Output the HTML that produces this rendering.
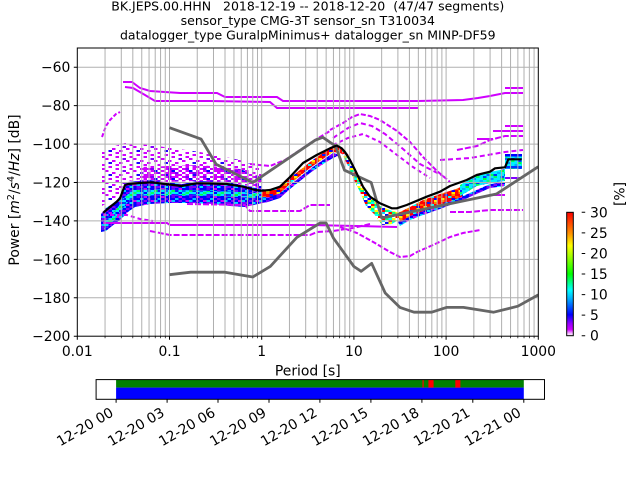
<!DOCTYPE html>
<html><head><meta charset="utf-8"><style>
html,body{margin:0;padding:0;background:#fff;}
svg{display:block;font-family:"DejaVu Sans","Liberation Sans",sans-serif;}
</style></head><body>
<svg width="640" height="480" viewBox="0 0 640 480" xmlns="http://www.w3.org/2000/svg">
<defs>
<clipPath id="ax"><rect x="77.3" y="48" width="461" height="288.2"/></clipPath>
<pattern id="pBlue" width="17.5" height="8" patternUnits="userSpaceOnUse">
<rect width="17.5" height="8" fill="#0000ff"/>
<rect x="3.5" y="0" width="3.5" height="2" fill="#8000ff"/><rect x="10.5" y="0" width="3.5" height="2" fill="#d000ff"/><rect x="14" y="0" width="3.5" height="2" fill="#00c8ff"/>
<rect x="0" y="2" width="3.5" height="2" fill="#8000ff"/><rect x="7" y="2" width="3.5" height="2" fill="#00e0ff"/><rect x="14" y="2" width="3.5" height="2" fill="#8000ff"/>
<rect x="3.5" y="4" width="3.5" height="2" fill="#d000ff"/><rect x="14" y="4" width="3.5" height="2" fill="#6000ff"/>
<rect x="0" y="6" width="3.5" height="2" fill="#00c0ff"/><rect x="7" y="6" width="3.5" height="2" fill="#8000ff"/>
</pattern>
<pattern id="pCyan" width="17.5" height="8" patternUnits="userSpaceOnUse">
<rect width="17.5" height="8" fill="#00f0ff"/>
<rect x="3.5" y="0" width="3.5" height="2" fill="#00ff60"/><rect x="10.5" y="0" width="3.5" height="2" fill="#0040ff"/>
<rect x="0" y="2" width="3.5" height="2" fill="#0090ff"/><rect x="10.5" y="2" width="3.5" height="2" fill="#00ff40"/>
<rect x="7" y="4" width="3.5" height="2" fill="#00b0ff"/><rect x="14" y="4" width="3.5" height="2" fill="#00ff80"/>
<rect x="0" y="6" width="3.5" height="2" fill="#00ff50"/><rect x="3.5" y="6" width="3.5" height="2" fill="#0030ff"/><rect x="14" y="6" width="3.5" height="2" fill="#0060ff"/>
</pattern>
<pattern id="pCyan2" width="17.5" height="8" patternUnits="userSpaceOnUse">
<rect width="17.5" height="8" fill="#00e8ff"/>
<rect x="3.5" y="0" width="3.5" height="2" fill="#0000ff"/><rect x="10.5" y="0" width="3.5" height="2" fill="#00ff60"/>
<rect x="0" y="2" width="3.5" height="2" fill="#0040ff"/><rect x="7" y="2" width="3.5" height="2" fill="#00ff40"/><rect x="14" y="2" width="3.5" height="2" fill="#4000ff"/>
<rect x="3.5" y="4" width="3.5" height="2" fill="#00ff80"/><rect x="10.5" y="4" width="3.5" height="2" fill="#0000ff"/>
<rect x="0" y="6" width="3.5" height="2" fill="#0020ff"/><rect x="7" y="6" width="3.5" height="2" fill="#0060ff"/><rect x="14" y="6" width="3.5" height="2" fill="#00ff50"/>
</pattern>
<pattern id="pHot" width="17.5" height="8" patternUnits="userSpaceOnUse">
<rect width="17.5" height="8" fill="#ff0000"/>
<rect x="3.5" y="0" width="3.5" height="2" fill="#ff8000"/><rect x="14" y="0" width="3.5" height="2" fill="#ffee00"/>
<rect x="7" y="2" width="3.5" height="2" fill="#0020ff"/><rect x="14" y="2" width="3.5" height="2" fill="#ff8000"/>
<rect x="0" y="4" width="3.5" height="2" fill="#ff6000"/><rect x="10.5" y="4" width="3.5" height="2" fill="#00ffff"/>
<rect x="3.5" y="6" width="3.5" height="2" fill="#ffee00"/><rect x="14" y="6" width="3.5" height="2" fill="#0000ff"/>
</pattern>
<pattern id="pMix" width="17.5" height="8" patternUnits="userSpaceOnUse">
<rect width="17.5" height="8" fill="#00ff80"/>
<rect x="0" y="0" width="3.5" height="2" fill="#ffff00"/><rect x="7" y="0" width="3.5" height="2" fill="#ffffff"/><rect x="10.5" y="0" width="3.5" height="2" fill="#ff0000"/><rect x="14" y="0" width="3.5" height="2" fill="#0000ff"/>
<rect x="3.5" y="2" width="3.5" height="2" fill="#00ffff"/><rect x="7" y="2" width="3.5" height="2" fill="#ffff00"/><rect x="10.5" y="2" width="3.5" height="2" fill="#ffffff"/><rect x="14" y="2" width="3.5" height="2" fill="#ff0000"/>
<rect x="0" y="4" width="3.5" height="2" fill="#ffffff"/><rect x="3.5" y="4" width="3.5" height="2" fill="#ff0000"/><rect x="10.5" y="4" width="3.5" height="2" fill="#ffff00"/><rect x="14" y="4" width="3.5" height="2" fill="#00e0ff"/>
<rect x="0" y="6" width="3.5" height="2" fill="#0000ff"/><rect x="3.5" y="6" width="3.5" height="2" fill="#ffff00"/><rect x="7" y="6" width="3.5" height="2" fill="#00ffff"/><rect x="14" y="6" width="3.5" height="2" fill="#ffffff"/>
</pattern>
<pattern id="pSparse" width="28" height="12" patternUnits="userSpaceOnUse">
<rect x="3.5" y="0" width="3.5" height="2" fill="#d000ff"/><rect x="17.5" y="0" width="3.5" height="2" fill="#d000ff"/>
<rect x="10.5" y="2" width="3.5" height="2" fill="#8000ff"/><rect x="21" y="2" width="3.5" height="2" fill="#d000ff"/>
<rect x="0" y="4" width="3.5" height="2" fill="#d000ff"/><rect x="14" y="4" width="3.5" height="2" fill="#d000ff"/>
<rect x="7" y="6" width="3.5" height="2" fill="#d000ff"/><rect x="24.5" y="6" width="3.5" height="2" fill="#2000ff"/>
<rect x="3.5" y="8" width="3.5" height="2" fill="#d000ff"/><rect x="17.5" y="8" width="3.5" height="2" fill="#d000ff"/>
<rect x="10.5" y="10" width="3.5" height="2" fill="#d000ff"/><rect x="24.5" y="10" width="3.5" height="2" fill="#d000ff"/>
</pattern>
<pattern id="pMag" width="17.5" height="8" patternUnits="userSpaceOnUse">
<rect x="0" y="0" width="3.5" height="2" fill="#d000ff"/><rect x="7" y="0" width="3.5" height="2" fill="#d000ff"/><rect x="10.5" y="0" width="3.5" height="2" fill="#8000ff"/>
<rect x="3.5" y="2" width="3.5" height="2" fill="#d000ff"/><rect x="10.5" y="2" width="3.5" height="2" fill="#d000ff"/><rect x="14" y="2" width="3.5" height="2" fill="#0000ff"/>
<rect x="0" y="4" width="3.5" height="2" fill="#8000ff"/><rect x="7" y="4" width="3.5" height="2" fill="#d000ff"/><rect x="14" y="4" width="3.5" height="2" fill="#d000ff"/>
<rect x="3.5" y="6" width="3.5" height="2" fill="#d000ff"/><rect x="10.5" y="6" width="3.5" height="2" fill="#d000ff"/>
</pattern>
<linearGradient id="cbar" x1="0" y1="1" x2="0" y2="0">
<stop offset="0" stop-color="#ffffff"/>
<stop offset="0.02" stop-color="#f0b0ff"/>
<stop offset="0.05" stop-color="#d000ff"/>
<stop offset="0.10" stop-color="#9000ff"/>
<stop offset="0.17" stop-color="#0000ff"/>
<stop offset="0.30" stop-color="#00b0ff"/>
<stop offset="0.37" stop-color="#00ffff"/>
<stop offset="0.50" stop-color="#00ff00"/>
<stop offset="0.65" stop-color="#aaff00"/>
<stop offset="0.73" stop-color="#ffff00"/>
<stop offset="0.83" stop-color="#ff9000"/>
<stop offset="1" stop-color="#ff0000"/>
</linearGradient>
</defs>

<!-- Title -->
<g font-size="12.5" fill="#000" text-anchor="middle">
<text x="307.8" y="10.5">BK.JEPS.00.HHN&#160;&#160;&#160;2018-12-19 -- 2018-12-20&#160;&#160;(47/47 segments)</text>
<text x="307.8" y="25">sensor_type CMG-3T sensor_sn T310034</text>
<text x="307.8" y="39.5">datalogger_type GuralpMinimus+ datalogger_sn MINP-DF59</text>
</g>

<!-- Heatmap -->
<g clip-path="url(#ax)">
<polygon fill="url(#pSparse)" points="102,150 125,143 150,145 200,152 240,160 262,168 262,186 240,181 200,178 150,178 128,181 122,188 118,196 102,206"/>
<polygon fill="url(#pMag)" points="140,167 200,165 240,169 262,177 262,189 245,185 227,182 197,181 165,182 150,180 140,181"/>
<polygon fill="url(#pBlue)" points="101,214 106,208 112,204 117,200 120,196 123,188 127,182 150,180 165,182 182,184 197,181 227,182 243,185 256,188 268,190 275,188 275,198 268,202 258,204 245,207 230,206 215,204 190,203 170,203 150,204 135,207 128,212 120,220 112,226 106,231 101,232"/>
<polygon fill="url(#pCyan2)" points="104,222 112,214 118,207 125,197 132,190 160,189.5 200,190.5 240,192 256,193 270,192 270,197 256,198 240,197 200,195.5 160,195 135,196 126,204 118,215 110,225 104,229"/>
<polygon fill="url(#pBlue)" points="268,198 280,193 290,185 310,169 320,162 333,153 340,155 333,158 320,166 310,173 290,189 280,198 268,202"/>
<polygon fill="url(#pHot)" points="262,191 270,190 280,186 290,178 310,162 320,155 333,146 340,147 344,151 346,156 340,153 333,152 320,161 310,168 290,184 280,193 270,197 262,197"/>
<polygon fill="url(#pMix)" points="342,150 348,154 353,166 358,176 364,188 371,196 380,206 392,211 400,212 400,219 392,224 382,225 374,214 366,206 360,192 354,180 349,168 344,158"/>
<polygon fill="url(#pBlue)" points="398,222 410,216 423,210 440,204 456,199 463,196 490,184 505,182 505,186 490,188 463,200 440,209 423,215 410,220 400,226"/>
<polygon fill="url(#pHot)" points="398,213 410,207 423,200 440,194 456,189 463,186 463,196 456,199 440,205 423,211 410,216 400,222"/>
<polygon fill="url(#pCyan)" points="460,185 467,181 477,176 490,172 505,169 505,181 490,183 477,186 467,192 460,196"/>
<rect x="505" y="154" width="17" height="15" fill="url(#pCyan)"/>
<rect x="505" y="154" width="17" height="2.5" fill="#0000ff"/>
<rect x="505" y="166" width="17" height="2.5" fill="#0030ff"/>

<g fill="none" stroke="#d000ff" stroke-width="2">
<polyline points="102,137 106,126 110,120 116,114 120,112" stroke-dasharray="4 2"/>
<polyline points="123,82 132,82 140,88 150,91 180,93 217,93 225,97 277,97 283,101 418,101 463,100 478,98 490,96 505,93 523,93"/>
<polyline points="125,87 133,88 145,95 155,101 210,101 270,102 277,108 418,108"/>
<polyline points="505,88 523,88"/>
<polyline points="330,130 343,123 352,117 360,114 370,116 380,120 397,131 410,142 423,157 437,171 450,182" stroke-dasharray="5 2"/>
<polyline points="333,138 348,128 360,123 372,126 385,134 403,149 420,164 443,176" stroke-dasharray="5 3"/>
<polyline points="333,145 348,138 363,134 380,142 397,155 413,167 430,178" stroke-dasharray="4 3"/>
<polyline points="250,164 270,166 285,160 300,150 315,140 330,131" stroke-dasharray="5 2"/>
<polyline points="457,150 477,146 490,140 505,136 523,136" stroke-dasharray="6 2"/>
<polyline points="477,139 493,139"/>
<polyline points="505,126 523,126"/>
<polyline points="493,131 523,131"/>
<polyline points="440,160 470,158 505,152 523,150" stroke-dasharray="5 3"/>
<polyline points="490,195 505,195"/>
<polyline points="450,212 470,212 490,210 523,210" stroke-dasharray="6 2"/>
<polyline points="103,223 167,223 170,225 310,225 357,226 397,227"/>
<polyline points="150,231 170,235 310,235 317,232 333,231 353,228 370,224" stroke-dasharray="6 2"/>
<polyline points="187,204 245,205 250,211 300,211 310,205 330,205" stroke-dasharray="6 2"/>
<polyline points="340,227 357,233 375,243 390,252 400,257 410,256 417,252 433,245 450,237 463,233 480,230" stroke-dasharray="5 2"/>
<polyline points="103,215 127,215 140,219 153,221" stroke-dasharray="4 3"/>
</g>
<polyline points="505,178 522,178" fill="none" stroke="#8000ff" stroke-width="2"/>
</g>

<!-- Grid -->
<g stroke="#b0b0b0" stroke-width="1" fill="none">
<path d="M105.05 48V336.2M121.29 48V336.2M132.81 48V336.2M141.75 48V336.2M149.05 48V336.2M155.22 48V336.2M160.56 48V336.2M165.28 48V336.2
M169.5 48V336.2M197.25 48V336.2M213.49 48V336.2M225.01 48V336.2M233.95 48V336.2M241.25 48V336.2M247.42 48V336.2M252.76 48V336.2M257.48 48V336.2
M261.7 48V336.2M289.45 48V336.2M305.69 48V336.2M317.21 48V336.2M326.15 48V336.2M333.45 48V336.2M339.62 48V336.2M344.96 48V336.2M349.68 48V336.2
M353.9 48V336.2M381.65 48V336.2M397.89 48V336.2M409.41 48V336.2M418.35 48V336.2M425.65 48V336.2M431.82 48V336.2M437.16 48V336.2M441.88 48V336.2
M446.1 48V336.2M473.85 48V336.2M490.09 48V336.2M501.61 48V336.2M510.55 48V336.2M517.85 48V336.2M524.02 48V336.2M529.36 48V336.2M534.08 48V336.2"/>
<path d="M77.3 67.2H538.3M77.3 105.6H538.3M77.3 144.1H538.3M77.3 182.5H538.3M77.3 220.9H538.3M77.3 259.4H538.3M77.3 297.8H538.3"/>
</g>

<!-- Noise models and mean -->
<g clip-path="url(#ax)" fill="none" stroke-linejoin="round">
<polyline stroke="#666666" stroke-width="2.8" points="169.5,127.7 201.1,139.1 216.1,164.2 252.8,182.5 315.2,140.2 322.8,137.3 335.4,146.0 344.5,170.2 371.2,182.5 381.7,218.0 496.4,194.0 538.3,166.7"/>
<polyline stroke="#666666" stroke-width="2.8" points="169.5,274.7 190.7,272.2 225.0,272.2 252.8,277.0 270.3,266.4 296.8,237.4 320.1,223.0 326.1,223.0 333.5,238.2 353.9,266.5 361.2,271.3 371.7,263.4 385.2,293.0 399.9,307.4 414.0,312.2 431.7,312.2 446.5,307.4 463.4,307.4 493.7,312.2 517.9,306.2 538.3,294.9"/>
<polyline stroke="#000000" stroke-width="2.2" points="103.3,212.7 110,207 116.7,201.7 120,198.3 125,185 128.3,184 140,183 151.7,182.3 165,184 181.7,186 196.7,183.3 210,183.5 226.7,184 243.3,186.7 255,190 261.7,190.7 270,190 280,186.7 290,177 303,163 316.7,155 330,148.3 336.7,145.5 341.7,148.3 345,152 350,160 356.7,173.3 363,186.7 370,196.7 380,203.3 391.7,208.3 396.7,208.3 406.7,205 426.7,196.7 440,191.7 450,186 466.7,180 476.7,175 490,171.7 495,168.3 505,167.3 508.3,159.3 521.7,159.3"/>
</g>

<!-- Axes frame & ticks -->
<rect x="77.3" y="48" width="461" height="288.2" fill="none" stroke="#000" stroke-width="1"/>
<g stroke="#000" stroke-width="1">
<path d="M73.8 67.2H77.3M73.8 105.6H77.3M73.8 144.1H77.3M73.8 182.5H77.3M73.8 220.9H77.3M73.8 259.4H77.3M73.8 297.8H77.3M73.8 336.2H77.3"/>
<path d="M77.3 336.2V339.7M169.5 336.2V339.7M261.7 336.2V339.7M353.9 336.2V339.7M446.1 336.2V339.7M538.3 336.2V339.7"/>
<path stroke-width="0.7" d="M105.05 336.2V338.2M121.29 336.2V338.2M132.81 336.2V338.2M141.75 336.2V338.2M149.05 336.2V338.2M155.22 336.2V338.2M160.56 336.2V338.2M165.28 336.2V338.2M197.25 336.2V338.2M213.49 336.2V338.2M225.01 336.2V338.2M233.95 336.2V338.2M241.25 336.2V338.2M247.42 336.2V338.2M252.76 336.2V338.2M257.48 336.2V338.2M289.45 336.2V338.2M305.69 336.2V338.2M317.21 336.2V338.2M326.15 336.2V338.2M333.45 336.2V338.2M339.62 336.2V338.2M344.96 336.2V338.2M349.68 336.2V338.2M381.65 336.2V338.2M397.89 336.2V338.2M409.41 336.2V338.2M418.35 336.2V338.2M425.65 336.2V338.2M431.82 336.2V338.2M437.16 336.2V338.2M441.88 336.2V338.2M473.85 336.2V338.2M490.09 336.2V338.2M501.61 336.2V338.2M510.55 336.2V338.2M517.85 336.2V338.2M524.02 336.2V338.2M529.36 336.2V338.2M534.08 336.2V338.2"/>
</g>
<g font-size="13.9" fill="#000" text-anchor="end">
<text x="70.3" y="72.2">−60</text>
<text x="70.3" y="110.6">−80</text>
<text x="70.3" y="149.1">−100</text>
<text x="70.3" y="187.5">−120</text>
<text x="70.3" y="225.9">−140</text>
<text x="70.3" y="264.4">−160</text>
<text x="70.3" y="302.8">−180</text>
<text x="70.3" y="341.2">−200</text>
</g>
<g font-size="13.9" fill="#000" text-anchor="middle">
<text x="77.3" y="356">0.01</text>
<text x="169.5" y="356">0.1</text>
<text x="261.7" y="356">1</text>
<text x="353.9" y="356">10</text>
<text x="446.1" y="356">100</text>
<text x="538.3" y="356">1000</text>
<text x="307.8" y="375.5">Period [s]</text>
<text transform="translate(19,190) rotate(-90)">Power [<tspan font-style="italic">m</tspan><tspan font-size="9.7" dy="-5">2</tspan><tspan dy="5">/</tspan><tspan font-style="italic">s</tspan><tspan font-size="9.7" dy="-5">4</tspan><tspan dy="5">/</tspan><tspan font-style="italic">Hz</tspan>] [dB]</text>
</g>

<!-- Colorbar -->
<rect x="566.7" y="212.3" width="6.6" height="123.4" fill="url(#cbar)" stroke="#000" stroke-width="1"/>
<g stroke="#000" stroke-width="1">
<path d="M581.7 212.3H585.2M581.7 232.9H585.2M581.7 253.5H585.2M581.7 274H585.2M581.7 294.6H585.2M581.7 315.1H585.2M581.7 335.7H585.2"/>
</g>
<g font-size="13.9" fill="#000">
<text x="590" y="217.3">30</text>
<text x="590" y="237.9">25</text>
<text x="590" y="258.5">20</text>
<text x="590" y="279">15</text>
<text x="590" y="299.6">10</text>
<text x="590" y="320.1">5</text>
<text x="590" y="340.7">0</text>
<text transform="translate(624.5,194) rotate(-90)" text-anchor="middle">[%]</text>
</g>

<!-- Time coverage bar -->
<rect x="96.1" y="379.6" width="448.4" height="19.7" fill="#fff"/>
<rect x="116.1" y="379.6" width="407.7" height="8" fill="#008000"/>
<rect x="116.1" y="387.6" width="407.7" height="11.7" fill="#0000ff"/>
<rect x="422.5" y="379.6" width="1.2" height="8" fill="#ff0000"/>
<rect x="428.4" y="379.6" width="5.2" height="8" fill="#ff0000"/>
<rect x="455.3" y="379.6" width="5.1" height="8" fill="#ff0000"/>
<rect x="96.1" y="379.6" width="448.4" height="19.7" fill="none" stroke="#000" stroke-width="1"/>
<g stroke="#000" stroke-width="1">
<path d="M116.1 399.3V402.8M167.1 399.3V402.8M218 399.3V402.8M269 399.3V402.8M319.9 399.3V402.8M370.9 399.3V402.8M421.9 399.3V402.8M472.8 399.3V402.8M523.8 399.3V402.8"/>
</g>
<g font-size="13.9" fill="#000" text-anchor="end">
<text transform="translate(114.4,415.3) rotate(-30)">12-20 00</text>
<text transform="translate(165.4,415.3) rotate(-30)">12-20 03</text>
<text transform="translate(216.3,415.3) rotate(-30)">12-20 06</text>
<text transform="translate(267.3,415.3) rotate(-30)">12-20 09</text>
<text transform="translate(318.2,415.3) rotate(-30)">12-20 12</text>
<text transform="translate(369.2,415.3) rotate(-30)">12-20 15</text>
<text transform="translate(420.2,415.3) rotate(-30)">12-20 18</text>
<text transform="translate(471.1,415.3) rotate(-30)">12-20 21</text>
<text transform="translate(522.1,415.3) rotate(-30)">12-21 00</text>
</g>
</svg>
</body></html>
